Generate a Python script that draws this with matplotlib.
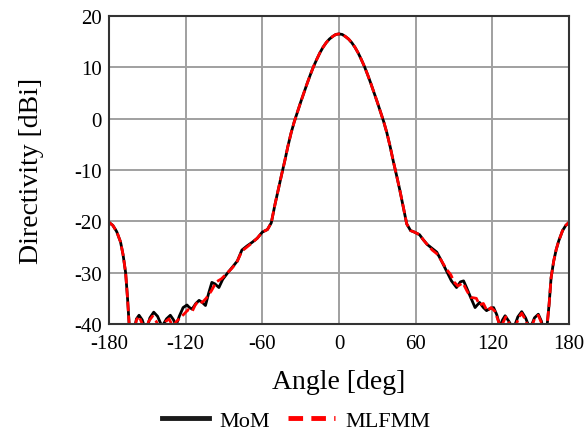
import numpy as np
import matplotlib
matplotlib.use("Agg")
import matplotlib.pyplot as plt
from matplotlib.lines import Line2D

# main beam, both solvers agree here
ang_beam = [-50, -47.5, -45, -42.5, -40, -37.5, -35, -32.5, -30, -27.5, -25, -22.5, -20,
            -17.5, -15, -12.5, -10, -7.5, -5, -2.5, 0, 2.5, 5, 7.5, 10, 12.5, 15, 17.5,
            20, 22.5, 25, 27.5, 30, 32.5, 35, 37.5, 40, 42.5, 45, 47.5, 50]
beam = [-16.6, -13.8, -11.0, -8.3, -5.4, -2.8, -0.6, 1.3, 3.2, 5.0, 6.8, 8.5, 10.1,
        11.5, 12.8, 13.9, 14.8, 15.5, 16.0, 16.4, 16.5, 16.4, 16.0, 15.5, 14.8, 13.9, 12.8, 11.5,
        10.1, 8.5, 6.8, 5.0, 3.2, 1.3, -0.6, -2.8, -5.4, -8.3, -11.0, -13.8, -16.8]

# MoM sidelobes
ang_mom_l = [-180, -177, -174, -171, -169, -167, -165.5, -164, -161, -158.5, -156.5, -154,
             -151, -148, -145, -142, -138.5, -135, -132, -129.5, -127.5, -125, -122, -119,
             -117, -115, -112, -109.5, -107, -104.5, -102, -99.5, -97, -94, -91, -87, -83,
             -79.5, -76, -72, -68, -64, -60, -56, -53]
mom_l = [-20.2, -20.8, -22.0, -24.0, -26.5, -30.0, -35.0, -41.0, -42.0, -39.0, -38.3, -39.2,
         -41.5, -38.8, -37.7, -38.5, -40.5, -39.0, -38.3, -39.2, -40.3, -38.5, -36.8, -36.3,
         -36.8, -37.1, -36.0, -35.4, -35.8, -36.4, -34.0, -31.9, -32.2, -32.9, -31.3, -30.0, -28.8,
         -27.7, -25.6, -24.8, -24.1, -23.3, -22.1, -21.6, -20.3]
ang_mom_r = [53, 56, 59, 63, 66, 69, 73, 76.5, 80, 84, 88, 92, 95, 97.5, 100, 102.5, 106.5,
             110, 113, 115.5, 118, 121, 123.5, 126, 128, 130, 133, 136.5, 140, 143, 146, 149.5,
             153, 156, 158.5, 161.5, 164.5, 166, 168, 170, 172, 175, 177.5, 180]
mom_r = [-20.5, -21.8, -22.1, -22.6, -23.6, -24.5, -25.3, -26.0, -27.6, -29.6, -31.6, -32.9,
         -31.8, -31.6, -33.0, -34.5, -36.8, -35.8, -36.8, -37.4, -37.0, -36.8, -38.2, -40.5,
         -39.2, -38.4, -39.5, -41.0, -38.6, -37.6, -38.8, -41.0, -38.8, -38.1, -39.5, -44.0,
         -36.0, -31.0, -27.8, -25.5, -23.8, -21.8, -20.8, -20.2]

# MLFMM sidelobes
ang_ml_l = [-180, -177, -174, -171, -169, -167, -165.5, -164, -161, -158.5, -156.5, -154,
            -152, -149, -146, -143, -139, -135.5, -133, -130, -127.5, -124, -121, -118, -115,
            -112.5, -110, -107, -104, -100, -96, -92, -88, -84, -80, -76, -72, -68, -64, -60,
            -56, -53]
ml_l = [-20.2, -20.8, -22.0, -24.0, -26.5, -30.0, -35.0, -41.0, -42.0, -39.2, -38.5, -40.0,
        -42.0, -39.5, -38.5, -39.5, -42.0, -39.5, -39.0, -40.5, -39.6, -38.7, -38.0, -37.2, -37.6,
        -36.3, -35.5, -35.8, -35.0, -33.6, -31.8, -31.2, -30.2, -29.2, -28.0, -25.8, -25.0, -24.2,
        -23.3, -22.1, -21.6, -20.3]
ang_ml_r = [53, 56, 59, 63, 66, 69, 73, 76.5, 80, 84, 87.5, 90, 93, 97, 100, 103, 107.5, 110,
            113, 116, 119, 122, 125.5, 127, 130.5, 133.5, 137, 140.5, 143, 146, 149.5, 153, 156,
            158.5, 161.5, 164.5, 166, 168, 170, 172, 175, 177.5, 180]
ml_r = [-20.5, -21.8, -22.1, -22.6, -23.6, -24.5, -25.6, -26.3, -27.6, -29.3, -30.4, -31.8,
        -32.6, -32.0, -33.5, -34.8, -35.0, -36.3, -36.0, -37.5, -36.8, -37.5, -40.0, -40.5,
        -38.6, -40.0, -41.5, -38.8, -37.9, -39.2, -41.5, -39.0, -38.3, -39.8, -44.0, -36.0,
        -31.0, -27.8, -25.5, -23.8, -21.8, -20.8, -20.2]

x_ticks = [-180, -120, -60, 0, 60, 120, 180]
y_ticks = [-40, -30, -20, -10, 0, 10, 20]

mom_x = ang_mom_l + ang_beam + ang_mom_r
mom_y = mom_l + beam + mom_r
ml_x = ang_ml_l + ang_beam + ang_ml_r
ml_y = ml_l + beam + ml_r

plt.rcParams['font.family'] = ['Liberation Serif', 'DejaVu Serif']
plt.rcParams['axes.unicode_minus'] = False

fig = plt.figure(figsize=(5.87, 4.35), dpi=100)
ax = fig.add_axes([0.1857, 0.2529, 0.7836, 0.7081])

ax.plot(mom_x, mom_y, color='black', lw=2.0, solid_joinstyle='round')
ax.plot(ml_x, ml_y, color='red', lw=2.0, dashes=(3.5, 1.5))

ax.set_xlim(-180, 180)
ax.set_ylim(-40, 20)
ax.set_xticks(x_ticks)
ax.set_yticks(y_ticks)
ax.tick_params(length=0, labelsize=15)
ax.tick_params(axis='x', pad=7)
ax.tick_params(axis='y', pad=5)
ax.grid(True, color='#a0a0a0', lw=1.4)
ax.set_axisbelow(True)
for s in ax.spines.values():
    s.set_color('#333333')
    s.set_linewidth(1.5)

ax.set_xlabel('Angle [deg]', fontsize=20, labelpad=12)
ax.set_ylabel('Directivity [dBi]', fontsize=20, labelpad=22)

handles = [Line2D([], [], color='#1a1a1a', lw=3.5),
           Line2D([], [], color='red', lw=3.5, dashes=(3, 1.7))]
fig.legend(handles, ['MoM', 'MLFMM'], loc='center', bbox_to_anchor=(0.505, 0.03),
           ncol=2, frameon=False, fontsize=16, handlelength=2.1, columnspacing=0.8,
           handletextpad=0.5, borderpad=0.2)

fig.savefig('out.png', dpi=100)
